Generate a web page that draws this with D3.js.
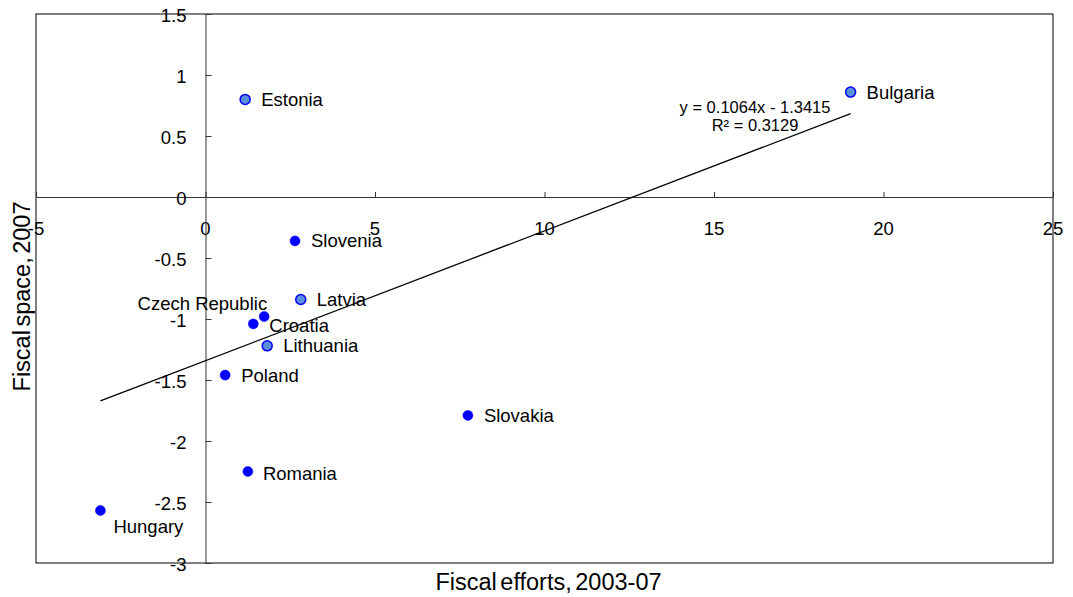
<!DOCTYPE html>
<html>
<head>
<meta charset="utf-8">
<script src="https://cdn.jsdelivr.net/npm/d3@7"></script>
<style>
  html, body { margin: 0; padding: 0; background: #fff; }
  svg { display: block; font-family: "Liberation Sans", Arial, sans-serif; }
</style>
</head>
<body>
<svg id="chart" width="1073" height="597"></svg>
<script>
// Countries and their fiscal efforts (x) vs. fiscal space (y)
const countries = ["Estonia", "Bulgaria", "Slovenia", "Latvia", "Czech Republic", "Croatia",
                   "Lithuania", "Poland", "Slovakia", "Romania", "Hungary"];
const fiscalEfforts = [1.17, 19.03, 2.64, 2.81, 1.73, 1.41, 1.82, 0.58, 7.74, 1.25, -3.10];
const fiscalSpace   = [0.80, 0.86, -0.36, -0.84, -0.98, -1.04, -1.22, -1.46, -1.79, -2.25, -2.57];
// Currency-board countries are drawn with the lighter marker
const currencyBoard = ["Estonia", "Bulgaria", "Latvia", "Lithuania"];

// Axis ticks
const xTicks = [-5, 0, 5, 10, 15, 20, 25];
const yTicks = [-3, -2.5, -2, -1.5, -1, -0.5, 0, 0.5, 1, 1.5];

// Linear trend
const trendSlope = 0.1064;
const trendIntercept = -1.3415;
const trendR2 = 0.3129;

const points = countries.map((c, i) => ({ name: c, x: fiscalEfforts[i], y: fiscalSpace[i] }));

// Label placement around each marker (pixel offsets of label from marker centre)
const labelPlacement = {
  "Czech Republic": { dx: 3, dy: -13, anchor: "end" },
  "Croatia": { dx: 16, dy: 2, anchor: "start" },
  "Hungary": { dx: 13, dy: 16, anchor: "start" },
  "Romania": { dx: 15, dy: 2, anchor: "start" }
};
const defaultPlacement = { dx: 16, dy: 0, anchor: "start" };

const svg = d3.select("#chart");
const plot = { left: 36, right: 1053, top: 14, bottom: 563 };

const x = d3.scaleLinear().domain([-5, 25]).range([plot.left, plot.right]);
const y = d3.scaleLinear().domain([-3, 1.5]).range([plot.bottom, plot.top]);

// Plot frame
svg.append("rect")
  .attr("x", plot.left).attr("y", plot.top)
  .attr("width", plot.right - plot.left).attr("height", plot.bottom - plot.top)
  .attr("fill", "#fff").attr("stroke", "#000").attr("stroke-width", 1);

// Horizontal axis through y = 0, ticks pointing up
const xAxis = svg.append("g")
  .attr("transform", `translate(0,${y(0)})`)
  .call(d3.axisTop(x).tickValues(xTicks).tickSize(5).tickSizeOuter(0).tickFormat(""));
xAxis.select(".domain").attr("stroke", "#333");
xAxis.selectAll(".tick line").attr("stroke", "#333");
svg.append("g").selectAll("text")
  .data(xTicks)
  .join("text")
  .attr("x", d => x(d))
  .attr("y", y(0) + 38)
  .attr("text-anchor", "middle")
  .attr("font-size", 18.5)
  .attr("fill", "#000")
  .text(d => d);

// Vertical axis through x = 0, ticks pointing right
const yAxis = svg.append("g")
  .attr("transform", `translate(${x(0)},0)`)
  .call(d3.axisRight(y).tickValues(yTicks).tickSize(6).tickSizeOuter(0).tickFormat(""));
yAxis.select(".domain").attr("stroke", "#333");
yAxis.selectAll(".tick line").attr("stroke", "#333");
svg.append("g").selectAll("text")
  .data(yTicks)
  .join("text")
  .attr("x", x(0) - 19)
  .attr("y", d => y(d) + 8)
  .attr("text-anchor", "end")
  .attr("font-size", 18.5)
  .attr("fill", "#000")
  .text(d => d);

// Trend line across the range of the data
const xExt = d3.extent(points, d => d.x);
svg.append("line")
  .attr("x1", x(xExt[0])).attr("y1", y(trendSlope * xExt[0] + trendIntercept))
  .attr("x2", x(xExt[1])).attr("y2", y(trendSlope * xExt[1] + trendIntercept))
  .attr("stroke", "#000").attr("stroke-width", 1.3);

// Trend equation
const eq = svg.append("text")
  .attr("x", x(16.21)).attr("y", y(0.691))
  .attr("text-anchor", "middle")
  .attr("font-size", 16.5)
  .attr("fill", "#000");
eq.append("tspan").attr("x", x(16.21)).attr("y", y(0.691))
  .text(`y = ${trendSlope}x  - ${Math.abs(trendIntercept)}`);
eq.append("tspan").attr("x", x(16.21)).attr("y", y(0.691) + 18.5)
  .text(`R² = ${trendR2}`);

// Markers
svg.append("g").selectAll("circle")
  .data(points)
  .join("circle")
  .attr("cx", d => x(d.x))
  .attr("cy", d => y(d.y))
  .attr("r", 5)
  .attr("fill", d => currencyBoard.includes(d.name) ? "#5b8fdc" : "#0000ff")
  .attr("stroke", "#0000ff")
  .attr("stroke-width", d => currencyBoard.includes(d.name) ? 1.5 : 0.5);

// Country labels
svg.append("g").selectAll("text")
  .data(points)
  .join("text")
  .each(function (d) {
    const p = labelPlacement[d.name] || defaultPlacement;
    d3.select(this)
      .attr("x", x(d.x) + p.dx)
      .attr("y", y(d.y) + p.dy)
      .attr("dy", "0.35em")
      .attr("text-anchor", p.anchor);
  })
  .attr("font-size", 18.5)
  .attr("fill", "#000")
  .text(d => d.name);

// Axis titles
svg.append("text")
  .attr("x", (plot.left + plot.right) / 2 + 4)
  .attr("y", 590)
  .attr("text-anchor", "middle")
  .attr("font-size", 23.5)
  .attr("word-spacing", -3)
  .attr("fill", "#000")
  .text("Fiscal efforts, 2003-07");

svg.append("text")
  .attr("transform", `translate(30,${(plot.top + plot.bottom) / 2 + 8}) rotate(-90)`)
  .attr("text-anchor", "middle")
  .attr("font-size", 23.5)
  .attr("word-spacing", -3)
  .attr("fill", "#000")
  .text("Fiscal space, 2007");
</script>
</body>
</html>
